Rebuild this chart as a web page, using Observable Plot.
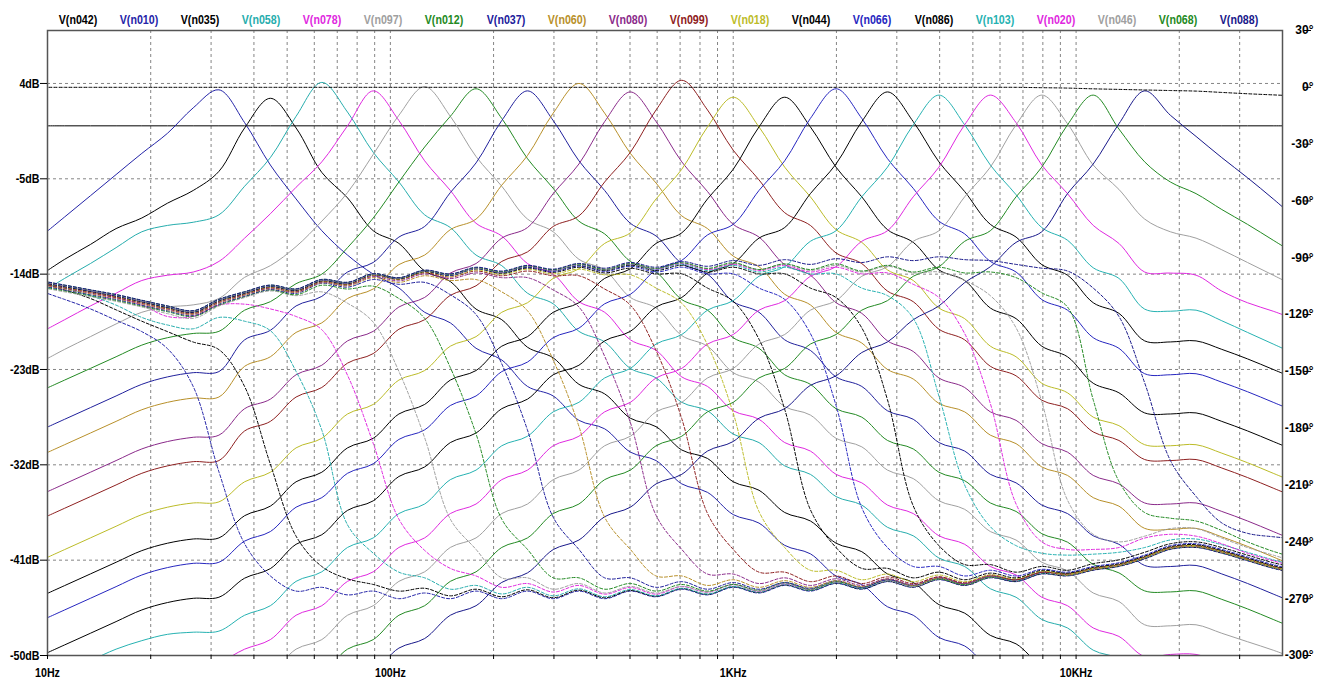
<!DOCTYPE html>
<html><head><meta charset="utf-8">
<script src="https://cdn.jsdelivr.net/npm/d3@7"></script>
<script src="https://cdn.jsdelivr.net/npm/@observablehq/plot@0.6"></script>
<style>
html,body{margin:0;padding:0;background:#fff;}
#wrap{position:relative;width:1320px;height:680px;overflow:hidden;background:#fff;}
#chart{position:absolute;left:0;top:0;}
#legend{position:absolute;left:0;top:0;width:1320px;height:30px;}
#legend span{position:absolute;top:12px;transform:translateX(-50%) scaleX(0.82);font:bold 13px 'Liberation Sans',Arial,sans-serif;white-space:nowrap;line-height:16px;}
</style></head><body>
<div id="wrap"><div id="chart"></div><div id="legend"></div></div>
<script>
// ---------- axis / tick data ----------
const freqs = [9.441,11.22,13.34,15.85,18.84,22.39,26.61,31.62,37.58,44.67,
53.09,63.10,74.99,89.13,105.9,125.9,149.6,177.8,211.3,251.2,
298.5,354.8,421.7,501.2,595.7,707.9,841.4,1000,1189,1413,
1679,1995,2371,2818,3350,3981,4732,5623,6683,7943,
9441,11220,13335,15849,18836,22387,26607,31623,37584,44668];
const gridFreqs = [20,30,40,50,60,70,80,90,100,200,300,400,500,600,700,800,900,1000,2000,3000,4000,5000,6000,7000,8000,9000,10000,20000,30000];
const xLabelFreqs = [10,100,1000,10000];
const xLabels = ["10Hz","100Hz","1KHz","10KHz"];
const dbTicks = [4,-5,-14,-23,-32,-41,-50];
const dbLabels = ["4dB","-5dB","-14dB","-23dB","-32dB","-41dB","-50dB"];
const phaseTicks = [30,0,-30,-60,-90,-120,-150,-180,-210,-240,-270,-300];
const phaseLabels = ["30°","0°","-30°","-60°","-90°","-120°","-150°","-180°","-210°","-240°","-270°","-300°"];

// ---------- series ----------
const seriesNames = ["V(n042)","V(n010)","V(n035)","V(n058)","V(n078)","V(n097)","V(n012)","V(n037)","V(n060)","V(n080)","V(n099)","V(n018)","V(n044)","V(n066)","V(n086)","V(n103)","V(n020)","V(n046)","V(n068)","V(n088)"];
const seriesColors = ["#000000","#2424a8","#000000","#26adad","#e028e0","#a0a0a0","#238a23","#20209c","#b8902a","#8a2a8a","#8e2020","#bcbc28","#000000","#2626c0","#000000","#26b2b2","#e028e0","#a0a0a0","#238a23","#18188a"];

// magnitude (dB) at freqs
const mag_n042 = [0,0,0,0,0,0,0,0,0,0, 0,0,0,0,0,0,0,0,0,0, 0,0,0,0,0,0,0,0,0,0, 0,0,0,0,0,0,0,0,0,0, 0,0,0,0,0,0,0,0,0,0];
const mag_n010 = [-10.6,-8.6,-6.6,-4.6,-2.6,-0.7,1.7,3.4,0.3,-3.7,
-6.9,-9.9,-12.2,-14.0,-15.3,-17.6,-18.6,-21.0,-22.1,-24.6,
-25.5,-27.8,-28.6,-30.8,-31.6,-33.8,-34.6,-36.7,-37.5,-39.6,
-40.4,-42.5,-43.3,-45.4,-46.2,-48.3,-49.1,-51.2,-52.0,-54.1,
-54.9,-57.0,-57.8,-59.9,-60.0,-60.0,-61.0,-62.0,-63.0,-64.0];
const mag_n035 = [-14.2,-12.6,-11.2,-9.7,-8.7,-7.3,-6.1,-4.3,-0.2,2.6,
-0.2,-4.4,-6.8,-9.9,-11.1,-13.7,-14.7,-17.3,-18.3,-20.9,
-21.9,-24.4,-25.3,-27.6,-28.4,-30.6,-31.4,-33.6,-34.4,-36.5,
-37.3,-39.4,-40.2,-42.3,-43.1,-45.2,-46.0,-48.1,-48.9,-51.0,
-51.8,-53.9,-54.7,-56.8,-56.9,-56.9,-57.7,-58.6,-59.6,-60.6];
const mag_n058 = [-15.9,-14.4,-13.0,-11.5,-10.0,-9.4,-9.1,-8.4,-5.7,-3.0,
0.9,4.1,1.3,-2.5,-5.3,-8.4,-9.6,-12.2,-13.2,-15.8,
-16.8,-19.4,-20.4,-22.9,-23.8,-26.1,-26.9,-29.1,-29.9,-32.1,
-32.9,-35.0,-35.8,-37.9,-38.7,-40.8,-41.6,-43.7,-44.5,-46.6,
-47.4,-49.5,-50.3,-52.4,-52.5,-52.4,-53.2,-54.1,-55.1,-56.1];
const mag_n078 = [-19.6,-18.3,-17.0,-15.8,-14.6,-14.1,-13.8,-12.8,-10.6,-8.3,
-5.8,-3.4,0.0,3.3,0.5,-3.3,-6.1,-9.2,-10.4,-13.0,
-14.0,-16.6,-17.6,-20.2,-21.2,-23.7,-24.6,-26.9,-27.7,-29.9,
-30.7,-32.9,-33.7,-35.8,-36.6,-38.7,-39.5,-41.6,-42.4,-44.5,
-45.3,-47.4,-48.2,-50.1,-49.9,-49.9,-50.7,-51.6,-52.6,-53.6];
const mag_n097 = [-22.4,-21.1,-19.9,-18.7,-17.6,-17.1,-16.9,-16.3,-14.3,-13.2,
-11.4,-9.0,-6.3,-2.7,1.0,3.7,0.9,-2.9,-5.7,-8.8,
-10.0,-12.6,-13.6,-16.2,-17.2,-19.8,-20.8,-23.3,-24.2,-26.5,
-27.3,-29.5,-30.3,-32.5,-33.3,-35.4,-36.2,-38.3,-39.1,-41.2,
-42.0,-44.1,-44.9,-47.1,-47.2,-47.1,-47.9,-48.7,-49.5,-50.4];
const mag_n012 = [-25.1,-24.0,-22.9,-21.8,-20.7,-20.0,-19.6,-19.4,-17.4,-16.6,
-14.9,-14.0,-11.5,-8.7,-5.3,-2.0,0.9,3.5,0.7,-3.1,
-5.9,-9.0,-10.2,-12.8,-13.8,-16.4,-17.4,-20.0,-21.0,-23.5,
-24.4,-26.7,-27.5,-29.7,-30.5,-32.7,-33.5,-35.6,-36.4,-38.5,
-39.3,-41.4,-42.2,-43.9,-44.0,-43.9,-44.7,-45.6,-46.6,-47.6];
const mag_n037 = [-28.8,-27.7,-26.6,-25.5,-24.4,-23.7,-23.3,-23.2,-20.2,-19.3,
-17.0,-16.1,-13.8,-12.9,-10.5,-9.5,-6.3,-3.5,0.5,3.3,
0.5,-3.3,-6.1,-9.2,-10.4,-13.0,-14.0,-16.6,-17.6,-20.2,
-21.2,-23.7,-24.6,-26.9,-27.7,-29.9,-30.7,-32.9,-33.7,-35.8,
-36.6,-38.7,-39.5,-41.5,-41.6,-41.5,-42.3,-43.2,-44.2,-45.2];
const mag_n060 = [-31.2,-30.1,-29.0,-27.9,-26.8,-26.1,-25.7,-25.6,-22.7,-21.8,
-19.5,-18.6,-16.3,-15.4,-13.1,-12.2,-9.8,-8.8,-5.6,-2.8,
1.2,4.0,1.2,-2.6,-5.4,-8.5,-9.7,-12.3,-13.3,-15.9,
-16.9,-19.5,-20.5,-23.0,-23.9,-26.2,-27.0,-29.2,-30.0,-32.2,
-33.0,-35.1,-35.9,-38.0,-38.1,-38.0,-38.8,-39.7,-40.7,-41.7];
const mag_n080 = [-34.9,-33.8,-32.7,-31.6,-30.5,-29.8,-29.4,-29.2,-26.7,-25.8,
-23.5,-22.6,-20.3,-19.4,-17.1,-16.2,-13.9,-13.0,-10.6,-9.6,
-6.4,-3.6,0.4,3.2,0.4,-3.4,-6.2,-9.3,-10.5,-13.1,
-14.1,-16.7,-17.7,-20.3,-21.3,-23.8,-24.7,-27.0,-27.8,-30.0,
-30.8,-33.0,-33.8,-35.6,-35.7,-35.6,-36.4,-37.3,-38.3,-39.3];
const mag_n099 = [-37.2,-36.1,-35.0,-33.9,-32.8,-32.1,-31.7,-31.6,-28.8,-27.9,
-25.6,-24.7,-22.4,-21.5,-19.2,-18.3,-16.0,-15.1,-12.8,-11.9,
-9.5,-8.5,-5.3,-2.5,1.5,4.3,1.5,-2.3,-5.1,-8.2,
-9.4,-12.0,-13.0,-15.6,-16.6,-19.2,-20.2,-22.7,-23.6,-25.9,
-26.7,-28.9,-29.7,-31.5,-31.6,-31.5,-32.3,-33.2,-34.2,-35.2];
const mag_n018 = [-41.1,-40.0,-38.9,-37.8,-36.7,-36.0,-35.6,-35.5,-33.6,-32.7,
-30.4,-29.5,-27.2,-26.3,-24.0,-23.1,-20.8,-19.9,-17.6,-16.7,
-14.4,-13.5,-11.1,-10.1,-6.9,-4.1,-0.1,2.7,-0.1,-3.9,
-6.7,-9.8,-11.0,-13.6,-14.6,-17.2,-18.2,-20.8,-21.8,-24.3,
-25.2,-27.5,-28.3,-30.1,-30.2,-30.1,-30.9,-31.8,-32.8,-33.8];
const mag_n044 = [-44.5,-43.4,-42.3,-41.2,-40.1,-39.4,-39.0,-38.9,-36.8,-35.9,
-33.6,-32.7,-30.4,-29.5,-27.2,-26.3,-24.0,-23.1,-20.8,-19.9,
-17.6,-16.7,-14.4,-13.5,-11.1,-10.1,-6.9,-4.1,-0.1,2.7,
-0.1,-3.9,-6.7,-9.8,-11.0,-13.6,-14.6,-17.2,-18.2,-20.8,
-21.8,-24.3,-25.2,-27.1,-27.2,-27.1,-27.9,-28.8,-29.8,-30.8];
const mag_n066 = [-46.8,-45.7,-44.6,-43.5,-42.4,-41.7,-41.3,-41.2,-39.2,-38.3,
-36.0,-35.1,-32.8,-31.9,-29.6,-28.7,-26.4,-25.5,-23.2,-22.3,
-20.0,-19.1,-16.8,-15.9,-13.6,-12.7,-10.3,-9.3,-6.1,-3.3,
0.7,3.5,0.7,-3.1,-5.9,-9.0,-10.2,-12.8,-13.8,-16.4,
-17.4,-20.0,-21.0,-23.4,-23.5,-23.4,-24.2,-25.1,-26.1,-27.1];
const mag_n086 = [-50.1,-49.0,-47.9,-46.8,-45.7,-45.0,-44.6,-44.5,-42.7,-41.8,
-39.5,-38.6,-36.3,-35.4,-33.1,-32.2,-29.9,-29.0,-26.7,-25.8,
-23.5,-22.6,-20.3,-19.4,-17.1,-16.2,-13.9,-13.0,-10.6,-9.6,
-6.4,-3.6,0.4,3.2,0.4,-3.4,-6.2,-9.3,-10.5,-13.1,
-14.1,-16.7,-17.7,-20.3,-20.4,-20.3,-21.1,-22.0,-23.0,-24.0];
const mag_n103 = [-52.9,-51.7,-50.5,-49.4,-48.6,-48.0,-47.8,-47.7,-46.2,-45.3,
-43.0,-42.1,-39.8,-38.9,-36.6,-35.7,-33.4,-32.5,-30.2,-29.3,
-27.0,-26.1,-23.8,-22.9,-20.6,-19.7,-17.4,-16.5,-14.2,-13.3,
-10.9,-9.9,-6.7,-3.9,0.1,2.9,0.1,-3.7,-6.5,-9.6,
-10.8,-13.4,-14.4,-17.3,-17.5,-17.4,-18.4,-19.5,-20.6,-21.7];
const mag_n020 = [-56.2,-55.1,-54.0,-52.9,-51.8,-51.1,-50.8,-50.6,-49.4,-48.5,
-46.2,-45.3,-43.0,-42.1,-39.8,-38.9,-36.6,-35.7,-33.4,-32.5,
-30.2,-29.3,-27.0,-26.1,-23.8,-22.9,-20.6,-19.7,-17.4,-16.5,
-14.2,-13.3,-10.9,-9.9,-6.7,-3.9,0.1,2.9,0.3,-3.7,
-6.4,-9.4,-11.1,-13.8,-13.9,-14.1,-15.6,-16.7,-17.5,-18.4];
const mag_n046 = [-60.5,-59.4,-58.3,-57.2,-56.1,-55.4,-55.0,-54.9,-52.6,-51.7,
-49.4,-48.5,-46.2,-45.3,-43.0,-42.1,-39.8,-38.9,-36.6,-35.7,
-33.4,-32.5,-30.2,-29.3,-27.0,-26.1,-23.8,-22.9,-20.6,-19.7,
-17.4,-16.5,-14.2,-13.3,-10.9,-9.9,-6.7,-3.9,0.1,2.9,
0.2,-3.7,-6.0,-8.8,-10.0,-10.6,-11.7,-12.9,-14.1,-15.3];
const mag_n068 = [-63.7,-62.6,-61.5,-60.4,-59.3,-58.6,-58.2,-58.1,-55.8,-54.9,
-52.6,-51.7,-49.4,-48.5,-46.2,-45.3,-43.0,-42.1,-39.8,-38.9,
-36.6,-35.7,-33.4,-32.5,-30.2,-29.3,-27.0,-26.1,-23.8,-22.9,
-20.6,-19.7,-17.4,-16.5,-14.2,-13.3,-10.9,-9.9,-6.7,-3.9,
0.1,2.9,-0.3,-3.4,-5.3,-6.4,-7.9,-9.3,-10.8,-12.3];
const mag_n088 = [-66.4,-65.3,-64.2,-63.1,-62.0,-61.3,-60.9,-60.8,-58.6,-57.7,
-55.5,-54.6,-52.4,-51.5,-49.3,-48.4,-46.2,-45.3,-43.1,-42.2,
-40.0,-39.1,-36.9,-36.0,-33.8,-32.9,-30.7,-29.8,-27.6,-26.7,
-24.5,-23.6,-21.4,-20.4,-18.3,-17.0,-14.8,-13.3,-11.0,-10.0,
-6.4,-3.6,0.2,3.3,1.0,-1.0,-3.0,-4.9,-6.9,-9.0];

// phase (degrees) at freqs
const ph_n042 = [0,0,0,0,0,0,0,0,0,0, 0,0,0,0,0,0,0,0,0,0, 0,0,0,0,0,0,0,0,0,0,
0,0,0,0,0,0,0,0,0,-0.2, -0.4,-0.8,-1.1,-1.4,-1.7,-2.0,-2.7,-3.4,-4.0,-4.6];
const ph_n010 = [-107.3,-112,-117,-123,-129,-138,-158,-203,-241,-258,
-266,-264,-268,-266,-270,-267,-270,-266,-270,-266,
-270,-266,-270,-266,-269,-265,-268,-264,-267,-263,
-266,-262,-265,-261,-264,-260,-263,-259,-261,-257,
-258,-255,-253,-249,-244,-243,-246,-250,-254,-257];
const ph_n035 = [-103,-107,-111.5,-117.5,-123.5,-129,-134.5,-138.5,-158,-199,
-237,-253,-259.5,-262.5,-266,-264.5,-268.5,-265,-269,-265.3,
-269.5,-265.5,-269.5,-265.7,-268.7,-264.7,-267.7,-263.7,-266.7,-262.7,
-265.7,-261.7,-264.8,-260.8,-263.8,-259.8,-262.8,-258.8,-260.8,-256.8,
-257.8,-254.8,-252.8,-248.8,-243.8,-242.8,-245.8,-249.8,-253.8,-256.8];
const ph_n058 = [-103,-106,-110,-115,-121.5,-125.5,-127.5,-121.5,-123.5,-128.5,
-150,-181,-231,-246,-256,-259,-265,-263,-267.5,-264,
-268.5,-264.8,-269,-265.2,-268.5,-264.5,-267.5,-263.5,-266.5,-262.5,
-265.5,-261.5,-264.5,-260.5,-263.5,-259.5,-262.5,-258.5,-260.5,-256.5,
-257.5,-254.5,-252.5,-248.5,-243.5,-242.5,-245.5,-249.5,-253.5,-256.5];
const ph_n078 = [-102.6,-105.2,-108,-111,-115,-121,-121,-115,-114.5,-117,
-121,-128,-152,-188,-228,-244.5,-254,-258,-264,-262,
-266.5,-263,-267.6,-264.1,-267.6,-263.6,-266.6,-262.6,-266.1,-262.1,
-265.1,-261.1,-264.1,-260.1,-263.1,-259.1,-262.1,-258.1,-260.1,-256.1,
-257.1,-254.1,-252.1,-248.1,-243.1,-242.1,-245.1,-249.1,-253.1,-256.1];
const ph_n097 = [-105.5,-108,-110.5,-113,-116,-119.5,-122,-115.5,-111,-107.5,
-110,-108,-114,-124,-150,-185,-228,-244,-259,-259,
-265,-262,-267,-263.5,-267,-263.5,-266.5,-262.5,-266,-262,
-265,-261,-264,-260.5,-263.5,-259.5,-262.5,-258.5,-260,-256,
-257,-254,-252,-248,-243,-242,-245,-249,-253,-256];
const ph_n012 = [-105,-107.5,-110,-112.5,-115.5,-118.5,-121,-115,-110.5,-107,
-109.5,-104.5,-106.5,-105,-111.5,-122,-148,-183,-228,-244,
-259,-259,-265,-262,-266,-262.5,-266,-262.5,-265.5,-261.5,
-265,-261,-264,-260,-263,-259.5,-262.5,-258.5,-260,-256,
-257,-254,-252,-248,-243,-242,-245,-249,-253,-256];
const ph_n037 = [-104.5,-107,-109.5,-112,-115,-118,-120.5,-114.5,-110.3,-106.8,
-108.8,-103.5,-105.5,-101.5,-104,-103,-109.5,-120,-146,-181,
-227,-244,-259,-259,-264,-261,-265,-261.5,-265,-261.5,
-264.5,-260.5,-264,-260,-263,-259,-262,-258,-260,-256,
-257,-254,-252,-248,-243,-242,-245,-249,-253,-256];
const ph_n060 = [-104,-106.5,-109,-111.5,-114.5,-117.5,-120,-114,-109.8,-106.3,
-108.3,-103.2,-104.8,-100.5,-103,-99.5,-102,-101.5,-108,-118,
-144,-179,-227,-244,-258,-258,-263,-260,-264,-260.5,
-264,-260.5,-263.5,-259.5,-263,-259,-262,-258,-260,-256,
-257.5,-254.5,-252.5,-248.5,-243.5,-242.5,-245.5,-249.5,-253.5,-256.5];
const ph_n080 = [-103.6,-106.1,-108.6,-111.1,-114.1,-117.1,-119.6,-113.6,-109.5,-106,
-108,-102.9,-104.4,-99.9,-102.2,-98.5,-101,-98,-100.5,-100.5,
-107,-116,-142,-177,-226,-244,-257,-257,-262,-259,
-263,-259.5,-263,-259.5,-262.5,-258.5,-262,-258,-260,-256,
-257,-254,-252,-248,-243,-242,-245,-249,-253,-256];
const ph_n099 = [-103.3,-105.8,-108.3,-110.8,-113.8,-116.8,-119.3,-113.3,-109.2,-105.7,
-107.7,-102.6,-104.1,-99.3,-101.5,-97.9,-100.2,-97,-99.5,-97,
-99.5,-99.5,-106.5,-115,-139,-175,-225,-244,-256,-256,
-261,-258,-262,-258.5,-262,-258.5,-261.5,-257.5,-260,-256,
-257,-254,-252,-248,-243,-242,-245,-249,-253,-256];
const ph_n018 = [-103,-105.5,-108,-110.5,-113.5,-116.5,-119,-113,-109,-105.4,
-107.4,-102.4,-103.9,-99.1,-101.3,-97.5,-99.7,-96.4,-98.7,-96,
-98.5,-96,-99,-99,-106,-114,-136,-172,-224,-243,
-255,-255,-260,-257,-261,-257.5,-261,-257.5,-259.5,-255.5,
-257,-254,-252,-248,-243,-242,-245,-249,-253,-256];
const ph_n044 = [-102.8,-105.3,-107.8,-110.3,-113.3,-116.3,-118.8,-112.8,-108.8,-105.2,
-107.2,-102.2,-103.7,-98.9,-101.1,-97.3,-99.3,-95.8,-98.2,-95.4,
-97.7,-95,-98,-95.5,-98.5,-98.5,-106,-113,-133,-170,
-223,-243,-254,-254,-259,-256,-260,-256.5,-259,-255,
-256.5,-253.5,-251.5,-247.5,-242.5,-241.5,-244.5,-248.5,-252.5,-255.5];
const ph_n066 = [-102.6,-105.1,-107.6,-110.1,-113.1,-116.1,-118.6,-112.6,-108.6,-105,
-107,-102,-103.5,-98.8,-100.9,-97,-99.3,-95.8,-97.8,-95,
-97.2,-94.4,-97.2,-94.5,-97.5,-95,-98.5,-98.5,-106,-112,
-130,-168,-222,-243,-253,-253,-258,-255,-258,-254.5,
-256,-253,-251,-247,-242,-241,-244,-248,-252,-255];
const ph_n086 = [-102.4,-104.9,-107.4,-109.9,-112.9,-115.9,-118.4,-112.4,-108.4,-104.9,
-106.9,-101.9,-103.4,-98.7,-100.8,-96.9,-99,-95.6,-97.7,-94.7,
-96.8,-94,-96.7,-93.9,-96.7,-94,-97.5,-95,-98.5,-98.5,
-106,-111,-127,-165,-221,-242,-252,-252,-256,-253,
-255,-251.5,-249.5,-245.5,-241,-240,-243,-247,-251,-254];
const ph_n103 = [-102.3,-104.8,-107.3,-109.8,-112.8,-115.8,-118.3,-112.3,-108.3,-104.8,
-106.8,-101.8,-103.3,-98.7,-100.8,-96.9,-99,-95.6,-97.6,-94.6,
-96.6,-93.8,-96.3,-93.5,-96.2,-93.4,-96.7,-94,-97.5,-95,
-98.5,-98.5,-106,-110,-122,-163,-210,-232,-242,-246,
-247,-246.5,-245.5,-243,-239,-238.5,-241.5,-245.5,-249.5,-253];
const ph_n020 = [-102.2,-104.7,-107.2,-109.7,-112.7,-115.7,-118.2,-112.2,-108.2,-104.7,
-106.7,-101.7,-103.2,-98.6,-100.7,-96.8,-98.9,-95.5,-97.5,-94.5,
-96.5,-93.6,-96.2,-93.3,-96,-93,-96.2,-93.4,-96.7,-94,
-97.5,-95,-98.5,-98,-104,-111,-130,-167,-220,-240,
-244,-244,-243,-238,-236,-237,-241,-246,-250,-254];
const ph_n046 = [-102.1,-104.6,-107.1,-109.6,-112.6,-115.6,-118.1,-112.1,-108.1,-104.6,
-106.6,-101.6,-103.1,-98.6,-100.6,-96.8,-98.8,-95.4,-97.4,-94.4,
-96.4,-93.5,-96,-93,-95.7,-92.8,-95.8,-93,-96.2,-93.4,
-96.7,-94,-97.5,-94.5,-98,-97.5,-102,-110,-127,-166,
-218,-236,-240,-237,-233,-233,-238,-243,-247,-251];
const ph_n068 = [-102,-104.5,-107,-109.5,-112.5,-115.5,-118,-112,-108,-104.5,
-106.5,-101.5,-103,-98.5,-100.6,-96.7,-98.7,-95.3,-97.3,-94.3,
-96.3,-93.3,-96.1,-93.1,-95.6,-92.6,-95.6,-92.6,-96.2,-93.2,
-96.2,-93.2,-97,-94,-97.5,-95,-98,-97.5,-100.5,-108.5,
-116,-165,-208,-224.5,-227.5,-229,-234,-240,-245,-249];
const ph_n088 = [-101.9,-104.4,-106.9,-109.4,-112.4,-115.4,-117.9,-111.9,-107.9,-104.4,
-106.4,-101.4,-102.9,-98.4,-100.5,-96.5,-98.5,-95,-97,-94,
-96,-93,-95.5,-92.5,-95,-92,-94.5,-91.5,-94,-91,
-93.5,-90.5,-92.5,-89.5,-91.5,-89.5,-91,-91.5,-93.5,-95.5,
-97,-106,-121,-156,-197,-216,-230,-235.5,-237.3,-238.5];

// ---------- build tables ----------
const magList = [mag_n042,mag_n010,mag_n035,mag_n058,mag_n078,mag_n097,mag_n012,mag_n037,mag_n060,mag_n080,mag_n099,mag_n018,mag_n044,mag_n066,mag_n086,mag_n103,mag_n020,mag_n046,mag_n068,mag_n088];
const phList = [ph_n042,ph_n010,ph_n035,ph_n058,ph_n078,ph_n097,ph_n012,ph_n037,ph_n060,ph_n080,ph_n099,ph_n018,ph_n044,ph_n066,ph_n086,ph_n103,ph_n020,ph_n046,ph_n068,ph_n088];

// right (phase) axis shares the frame: 30° at top (9 dB), -300° at bottom (-50 dB)
const yTop = 9, yBottom = -50, pTop = 30, pBottom = -300;
const phaseToY = p => yBottom + (p - pBottom) * (yTop - yBottom) / (pTop - pBottom);

const magRows = [], phRows = [];
seriesNames.forEach((name, i) => {
  magList[i].forEach((v, j) => magRows.push({name, f: freqs[j], v, color: seriesColors[i]}));
  phList[i].forEach((p, j) => phRows.push({name, f: freqs[j], v: phaseToY(p), color: seriesColors[i]}));
});

const xTicksAll = [10, ...gridFreqs];
const xFmt = d => { const k = xLabelFreqs.indexOf(d); return k >= 0 ? xLabels[k] : ""; };
const yFmt = d => { const k = dbTicks.indexOf(d); return k >= 0 ? dbLabels[k] : ""; };
const phTickY = phaseTicks.map(phaseToY);
const pFmt = d => { const k = phTickY.indexOf(d); return k >= 0 ? phaseLabels[k] : ""; };

const font = "'Liberation Sans',Arial,sans-serif";

const chart = Plot.plot({
  width: 1320, height: 680,
  marginTop: 30, marginLeft: 47, marginRight: 38, marginBottom: 25,
  x: {type: "log", domain: [10, 40000], label: null},
  y: {domain: [yBottom, yTop], label: null},
  style: {fontFamily: font, fontSize: "13px", fontWeight: "bold", background: "white", color: "black", overflow: "visible"},
  marks: [
    Plot.gridX(gridFreqs, {stroke: "#858585", strokeOpacity: 1, strokeDasharray: "3,3", strokeWidth: 1}),
    Plot.gridY(dbTicks, {stroke: "#858585", strokeOpacity: 1, strokeDasharray: "3,3", strokeWidth: 1}),
    Plot.line(magRows, {x: "f", y: "v", z: "name", stroke: "color", strokeWidth: 1, curve: "catmull-rom", clip: true}),
    Plot.line(phRows, {x: "f", y: "v", z: "name", stroke: "color", strokeWidth: 1, strokeDasharray: "3,2", curve: "catmull-rom", clip: true}),
    Plot.frame({stroke: "#555", strokeWidth: 1.5}),
    Plot.axisX(xTicksAll, {label: null, tickFormat: xFmt, tickSize: 4, tickPadding: 8, stroke: "#000", fill: "#000", fontSize: 13}),
    Plot.axisY(dbTicks, {anchor: "left", label: null, tickFormat: yFmt, tickSize: 7, tickPadding: 1, stroke: "#000", fill: "#000", fontSize: 13}),
    Plot.axisY(phTickY, {anchor: "right", label: null, tickFormat: pFmt, tickSize: 7, tickPadding: 3, textAnchor: "end", dx: 21, stroke: "#000", fill: "#000", fontSize: 12})
  ]
});
document.getElementById("chart").appendChild(chart);

// condense left/bottom tick label glyphs (narrow bold look); right-axis labels left as is
chart.querySelectorAll("text").forEach(t => {
  const L = t.getComputedTextLength();
  const bx = t.getBoundingClientRect().left;
  if (L > 0 && bx < 1250) { t.setAttribute("textLength", (L * 0.82).toFixed(1)); t.setAttribute("lengthAdjust", "spacingAndGlyphs"); }
});

// legend
const legend = document.getElementById("legend");
seriesNames.forEach((name, i) => {
  const s = document.createElement("span");
  s.textContent = name;
  s.style.color = seriesColors[i];
  s.style.left = (77.5 + 61.15 * i) + "px";
  legend.appendChild(s);
});
</script>
</body></html>
